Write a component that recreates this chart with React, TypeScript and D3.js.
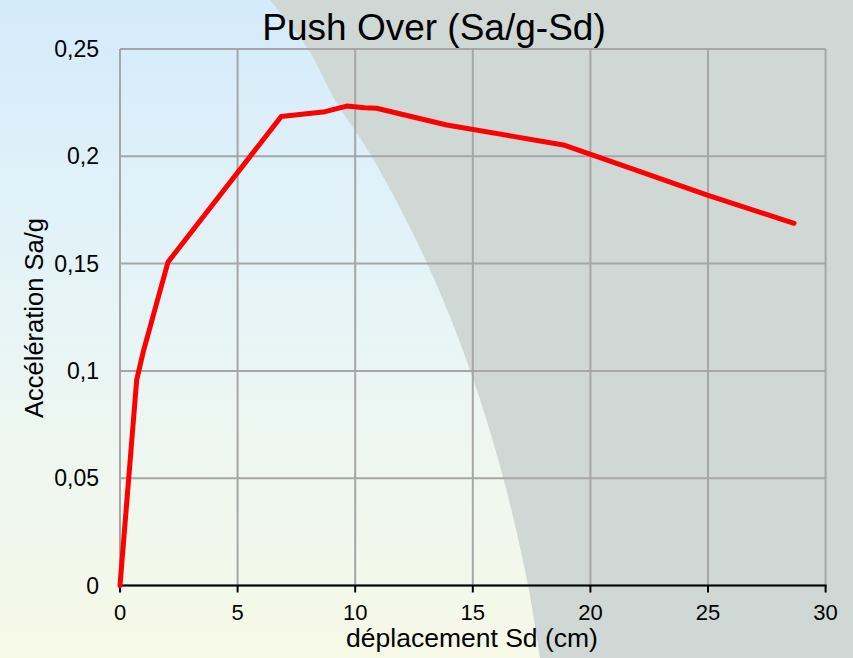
import React from 'react';
import * as d3 from 'd3';

// Data
const sdValues = [0, 0.71, 0.99, 2.04, 6.85, 8.72, 9.64, 10.4, 10.91, 13.89, 18.85, 21.54, 24.94, 28.66];
const saValues = [0, 0.0958, 0.109, 0.1507, 0.2185, 0.2208, 0.2234, 0.2226, 0.2224, 0.2146, 0.2053, 0.1951, 0.182, 0.1688];
const xTicks = [0, 5, 10, 15, 20, 25, 30];
const yTicks = [0, 0.05, 0.1, 0.15, 0.2, 0.25];
const yTickLabels = ['0', '0,05', '0,1', '0,15', '0,2', '0,25'];
const title = 'Push Over (Sa/g-Sd)';
const xLabel = 'déplacement Sd (cm)';
const yLabel = 'Accélération Sa/g';

// Decorative background shape boundary (pixel space)
const shadeBoundaryX = [270, 308, 335, 372, 427, 470, 503, 528, 540];
const shadeBoundaryY = [0, 49, 100, 157, 263, 370, 477, 585, 658];

const W = 853;
const H = 658;
const FONT = 'Liberation Sans, Arial, sans-serif';

export default function App() {
  const x = d3.scaleLinear().domain([0, 30]).range([120, 825.6]);
  const y = d3.scaleLinear().domain([0, 0.25]).range([585.5, 49]);

  const data = sdValues.map((d, i) => [d, saValues[i]] as [number, number]);
  const line = d3
    .line<[number, number]>()
    .x((d) => x(d[0]))
    .y((d) => y(d[1]));

  const boundary = shadeBoundaryX.map((bx, i) => [bx, shadeBoundaryY[i]] as [number, number]);
  const bLine = d3.line<[number, number]>().curve(d3.curveCatmullRom);
  const shadePath = bLine(boundary) + ` L${W},${H} L${W},0 Z`;

  const [x0, x1] = x.range();
  const [y0, y1] = y.range();

  return (
    <svg
      width={W}
      height={H}
      style={{ position: 'fixed', left: 0, top: 0, display: 'block' }}
      fontFamily={FONT}
    >
      <defs>
        <linearGradient id="bg" x1="0" y1="0" x2="0" y2="1">
          <stop offset="0" stopColor="#d4ebfb" />
          <stop offset="0.5" stopColor="#e8f5f6" />
          <stop offset="1" stopColor="#f7f9e7" />
        </linearGradient>
      </defs>
      <rect x={0} y={0} width={W} height={H} fill="url(#bg)" />
      <path d={shadePath} fill="#cfd8d5" />

      {/* grid */}
      {yTicks.map((t) => (
        <line key={'gy' + t} x1={x0} x2={x1} y1={y(t)} y2={y(t)} stroke="#a6a6a6" strokeWidth={2} />
      ))}
      {xTicks.map((t) => (
        <line key={'gx' + t} x1={x(t)} x2={x(t)} y1={y1} y2={y0} stroke="#a6a6a6" strokeWidth={2} />
      ))}

      {/* x axis */}
      <line x1={x0} x2={x1 + 1} y1={y0} y2={y0} stroke="#000" strokeWidth={2.2} />
      {xTicks.map((t) => (
        <line key={'tx' + t} x1={x(t)} x2={x(t)} y1={y0} y2={y0 + 7} stroke="#000" strokeWidth={2} />
      ))}
      {xTicks.map((t) => (
        <text key={'lx' + t} x={x(t)} y={620} textAnchor="middle" fontSize={22} fill="#000">
          {String(t)}
        </text>
      ))}
      {yTicks.map((t, i) => (
        <text
          key={'ly' + t}
          x={99}
          y={y(t)}
          dy="0.35em"
          textAnchor="end"
          fontSize={23}
          fill="#000"
        >
          {yTickLabels[i]}
        </text>
      ))}

      {/* data line */}
      <path
        d={line(data) || ''}
        fill="none"
        stroke="#ff0000"
        strokeWidth={5}
        strokeLinejoin="round"
        strokeLinecap="round"
      />

      {/* titles */}
      <text x={434} y={40} textAnchor="middle" fontSize={37} fill="#000">
        {title}
      </text>
      <text x={472} y={647} textAnchor="middle" fontSize={26.5} fill="#000">
        {xLabel}
      </text>
      <text
        transform="translate(43,318) rotate(-90)"
        textAnchor="middle"
        fontSize={25.5}
        fill="#000"
      >
        {yLabel}
      </text>
    </svg>
  );
}
